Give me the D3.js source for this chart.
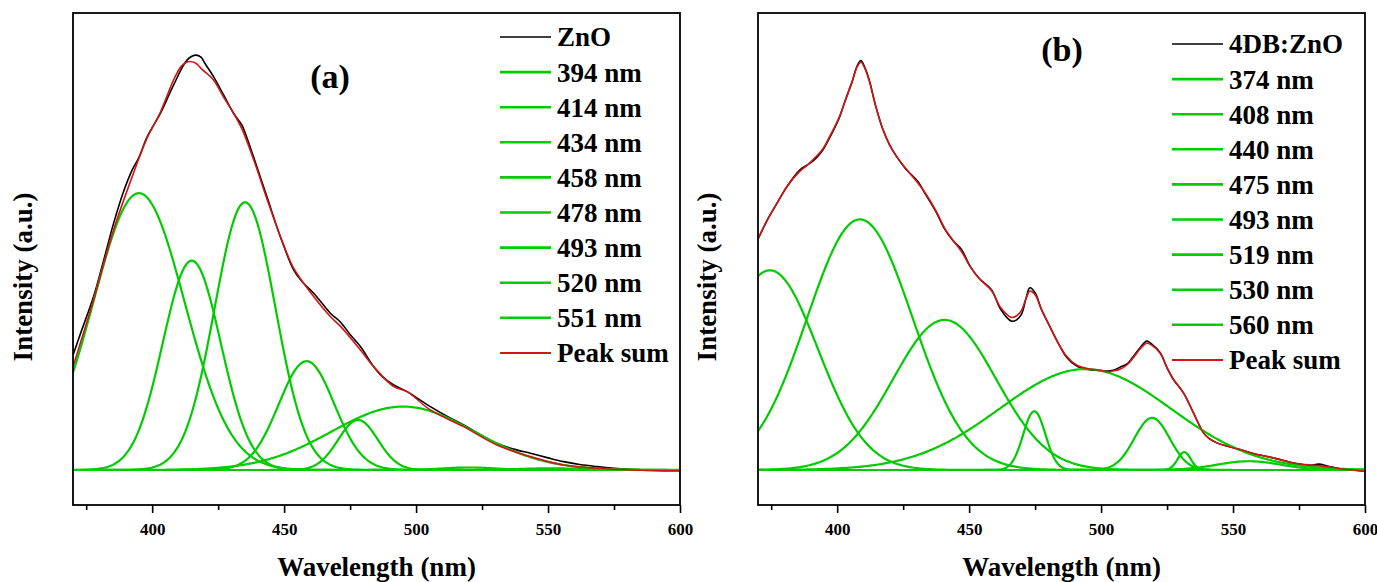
<!DOCTYPE html>
<html>
<head>
<meta charset="utf-8">
<script src="https://cdn.jsdelivr.net/npm/d3@7"></script>
<style>
  body { margin: 0; background: #fff; }
  svg { display: block; }
</style>
</head>
<body>
<svg id="chart" width="1377" height="582"></svg>
<script>
// ---- panel (a): ZnO ----  [wavelength nm, intensity a.u.]
const znoMeasured = [
  [370, 27.5], [373, 33], [377.8, 41.6], [381.5, 50], [385.4, 59.2], [389, 66.5], [392.4, 71.9],
  [395, 75], [398.1, 79.9], [403.1, 85.5], [408.1, 92.3], [413.2, 98.3], [416.4, 99.5], [418.5, 99],
  [420, 97.5], [423.3, 94.3], [427, 90], [430.9, 85.5], [434, 82.7], [436, 79.5], [438.4, 75.1],
  [443.5, 65.5], [448.6, 55.9], [453.6, 48], [457, 45], [461.2, 42.4], [467.5, 37.6], [471.3, 35.5],
  [475, 32.5], [478.9, 29.6], [483.9, 24.8], [487, 22.5], [491.5, 20.4], [496.6, 18.8], [500, 17.4],
  [505.4, 15.2], [512, 12.8], [518, 10.8], [524, 8.6], [530.6, 6.4], [537, 5], [543.3, 4], [550, 2.9],
  [555.9, 2], [562, 1.3], [568.5, 0.8], [575, 0.4], [581.1, 0.15], [590, -0.1], [600, -0.2]
];
const znoPeakSum = [
  [370, 24.8], [377.8, 40.8], [385.4, 57.6], [392.4, 70.3], [398, 79.5], [403.1, 85.8], [408.1, 93.5],
  [411, 96.8], [413.5, 97.9], [416.4, 97.6], [419, 96], [423.3, 93.5], [427, 89.5], [430.9, 85.5],
  [434, 81.8], [438.4, 74.5], [443.5, 65], [448.6, 56], [453.6, 48.4], [461.2, 41.6], [467.5, 36.8],
  [471.3, 34.5], [478.9, 28.8], [483.9, 24.8], [491.5, 20], [496.6, 18.8], [505.4, 14.4], [518, 10.4],
  [530.6, 6], [543.3, 3.2], [555.9, 1.2], [568.5, 0.4], [581.1, 0], [600, -0.2]
];
const znoPeakLabels = [394, 414, 434, 458, 478, 493, 520, 551];
const znoPeakPos    = [395, 415, 435.2, 458.5, 478, 495, 520, 551];
const znoPeakHeight = [66.4, 50.2, 64.2, 26.1, 12.0, 15.2, 0.6, 0.4];
const znoPeakSigma  = [17.3, 11, 11.5, 10.5, 7.5, 27, 10, 12];

// ---- panel (b): 4DB:ZnO ----
const dbMeasured = [
  [370, 55.4], [374, 60.5], [377.5, 64.3], [381, 68], [385.8, 71.9], [389, 73.3], [391, 74.2],
  [394.1, 76.3], [397, 79.5], [400.7, 84.3], [403, 88.5], [405.7, 93.2], [407.5, 96.8], [409, 98.2],
  [410.5, 96.5], [412.3, 93.2], [414.5, 87.5], [417.3, 81.7], [420, 77.8], [422.3, 75.4], [426, 72.2],
  [430.6, 69.2], [433.2, 66.4], [437.3, 62.1], [440.8, 57.7], [443.9, 55], [447.1, 52.9], [450.5, 48.7],
  [454, 45.8], [458.4, 43.3], [462, 38.5], [466, 35.7], [468, 36], [469.8, 37.3], [471.5, 41],
  [473, 43.7], [475, 42.5], [477.4, 38.5], [480.5, 34.5], [483.7, 30.5], [487, 27], [490.8, 24.9],
  [495, 24.1], [500, 23.8], [502.2, 23.7], [505, 24], [507.3, 24.7], [510, 25.5], [512.3, 27.3],
  [515, 29.5], [517.3, 30.9], [519, 30.3], [522.4, 28.1], [525, 24.5], [527.4, 21.7], [531.2, 18.5],
  [535, 13.7], [538.8, 8.9], [541, 7.5], [543.9, 6.5], [548, 5.7], [552.7, 4.9], [558, 3.9],
  [565.3, 2.9], [573.4, 1.6], [579, 1.1], [582.5, 1.4], [586, 0.9], [590.6, 0.3], [595, 0], [600, -0.3]
];
const dbPeakSum = [
  [370, 55.4], [374, 60.5], [377.5, 64.3], [381, 68], [385.8, 71.6], [389, 73.3], [394.1, 76.6],
  [397, 79.8], [400.7, 84.5], [403, 88.5], [405.7, 93.2], [407.5, 96.6], [409, 97.8], [410.5, 96.3],
  [412.3, 93], [414.5, 87.5], [417.3, 81.7], [420, 77.8], [422.3, 75.4], [426, 72.3], [430.6, 68.8],
  [433.2, 66.6], [437.3, 62.3], [440.8, 57.9], [443.9, 55.1], [447.1, 52.4], [450.5, 48.7], [454, 45.8],
  [458.4, 43.1], [462, 38.9], [466, 36.6], [468, 37], [469.8, 38.2], [471.5, 41], [473, 42.9],
  [475, 42], [477.4, 38.5], [480.5, 34.5], [483.7, 30.5], [487, 27.2], [490.8, 25.1], [495, 24.3],
  [500, 23.9], [502.2, 23.6], [505, 23.8], [507.3, 24.2], [510, 25.3], [512.3, 27], [515, 29.2],
  [517.3, 30.4], [519, 30], [522.4, 28], [525, 24.5], [527.4, 21.8], [531.2, 18.5], [535, 13.7],
  [538.8, 8.9], [541, 7.5], [543.9, 6.5], [548, 5.7], [552.7, 4.9], [558, 3.9], [565.3, 2.9],
  [573.4, 1.6], [581, 1.1], [586, 0.8], [590.6, 0.3], [595, 0], [600, -0.3]
];
const dbPeakLabels = [374, 408, 440, 475, 493, 519, 530, 560];
const dbPeakPos    = [374.5, 408.6, 440.7, 474.7, 494, 519.3, 531.5, 556];
const dbPeakHeight = [47.9, 60.1, 36.0, 14.1, 24.2, 12.5, 4.3, 2.1];
const dbPeakSigma  = [18.2, 20, 19.5, 4.2, 32.5, 6.7, 2.5, 12];

const xTicks = [400, 450, 500, 550, 600];
const xMinorTicks = [375, 425, 475, 525, 575];

const GREEN = "#00cc00";
const RED = "#d41515";
const SERIF = "Liberation Serif";

const svg = d3.select("#chart")
  .attr("font-family", SERIF).attr("font-weight", "bold");
const grid = d3.range(370, 600.001, 0.5);

// fitted gaussian component from its read centre / height / width
const gauss = (pos, h, s) => grid.map(w => [w, h * Math.exp(-((w - pos) ** 2) / (2 * s * s))]);

function drawPanel(p) {
  const x = d3.scaleLinear().domain([370, 600]).range([p.left, p.right]);
  const y = d3.scaleLinear().domain([-8.4, 109.6]).range([505, 13]);
  const g = svg.append("g");

  g.append("clipPath").attr("id", "clip-" + p.id)
    .append("rect").attr("x", p.left).attr("y", 13)
    .attr("width", p.right - p.left).attr("height", 492);

  const line = d3.line().x(d => x(d[0])).y(d => y(d[1]));
  const smooth = d3.line().x(d => x(d[0])).y(d => y(d[1])).curve(d3.curveCatmullRom.alpha(0.5));

  const plot = g.append("g").attr("clip-path", `url(#clip-${p.id})`);

  plot.append("path").datum(p.measured)
    .attr("d", smooth).attr("fill", "none").attr("stroke", "#000").attr("stroke-width", 1.6);

  p.pos.forEach((c, i) => {
    plot.append("path").datum(gauss(c, p.height[i], p.sigma[i]))
      .attr("d", line).attr("fill", "none").attr("stroke", GREEN).attr("stroke-width", 2.2);
  });

  plot.append("path").datum(p.sum)
    .attr("d", smooth).attr("fill", "none").attr("stroke", RED).attr("stroke-width", 1.6);

  // frame
  g.append("rect").attr("x", p.left).attr("y", 13)
    .attr("width", p.right - p.left).attr("height", 492)
    .attr("fill", "none").attr("stroke", "#000").attr("stroke-width", 1.8);

  // x axis
  const ax = g.append("g").attr("transform", "translate(0,505)")
    .call(d3.axisBottom(x).tickValues(xTicks).tickSize(8).tickPadding(10).tickFormat(d3.format("d")));
  ax.select(".domain").remove();
  ax.selectAll("line").attr("stroke-width", 1.6);
  ax.attr("font-family", SERIF).attr("font-size", 17);

  const axm = g.append("g").attr("transform", "translate(0,505)")
    .call(d3.axisBottom(x).tickValues(xMinorTicks).tickSize(5).tickFormat(""));
  axm.select(".domain").remove();
  axm.selectAll("line").attr("stroke-width", 1.6);

  g.append("text").attr("x", (p.left + p.right) / 2).attr("y", 576)
    .attr("text-anchor", "middle").attr("font-size", 27).text("Wavelength (nm)");

  g.append("text").attr("transform", `translate(${p.yTitleX},277) rotate(-90)`)
    .attr("text-anchor", "middle").attr("font-size", 27).text("Intensity (a.u.)");

  g.append("text").attr("x", p.tagX).attr("y", p.tagY)
    .attr("text-anchor", "middle").attr("font-size", 34).text(p.tag);

  // legend
  const items = [{label: p.name, color: "#000", w: 1.6}]
    .concat(p.labels.map(l => ({label: l + " nm", color: GREEN, w: 2.6})))
    .concat([{label: "Peak sum", color: RED, w: 2}]);
  const leg = g.append("g");
  items.forEach((it, i) => {
    const yy = p.legY + i * 35.1;
    leg.append("line").attr("x1", p.legX).attr("x2", p.legX + 51)
      .attr("y1", yy).attr("y2", yy).attr("stroke", it.color).attr("stroke-width", it.w);
    leg.append("text").attr("x", p.legX + 57).attr("y", yy).attr("dy", "0.35em")
      .attr("font-size", 27).text(it.label);
  });
}

drawPanel({
  id: "a", left: 73, right: 680, name: "ZnO", tag: "(a)", tagX: 330, tagY: 88,
  yTitleX: 32, legX: 500, legY: 37,
  measured: znoMeasured, sum: znoPeakSum,
  labels: znoPeakLabels, pos: znoPeakPos, height: znoPeakHeight, sigma: znoPeakSigma
});

drawPanel({
  id: "b", left: 758, right: 1365, name: "4DB:ZnO", tag: "(b)", tagX: 1062, tagY: 61,
  yTitleX: 716, legX: 1172, legY: 44,
  measured: dbMeasured, sum: dbPeakSum,
  labels: dbPeakLabels, pos: dbPeakPos, height: dbPeakHeight, sigma: dbPeakSigma
});
</script>
</body>
</html>
